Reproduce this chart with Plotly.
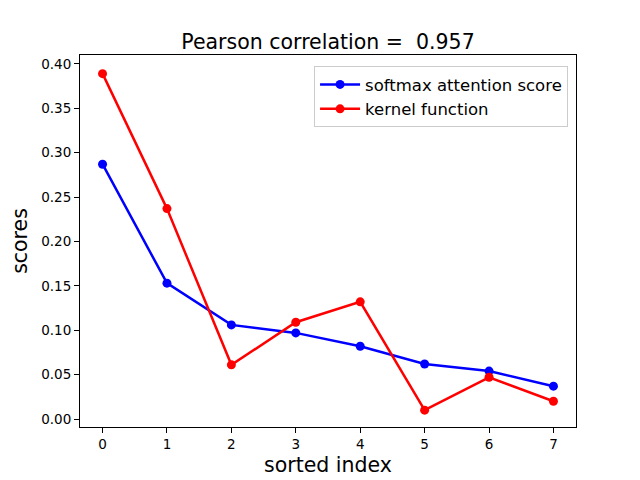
import plotly.graph_objects as go

idx = [0, 1, 2, 3, 4, 5, 6, 7]
softmax_scores = [0.287, 0.153, 0.106, 0.097, 0.082, 0.062, 0.054, 0.037]
kernel_scores = [0.389, 0.237, 0.061, 0.109, 0.132, 0.010, 0.047, 0.020]
y_ticks = [0.00, 0.05, 0.10, 0.15, 0.20, 0.25, 0.30, 0.35, 0.40]

font = "DejaVu Sans"

fig = go.Figure()
fig.add_trace(go.Scatter(x=idx, y=softmax_scores, mode="lines+markers",
                         name="softmax attention score",
                         line=dict(color="blue", width=2.5),
                         marker=dict(color="blue", size=9)))
fig.add_trace(go.Scatter(x=idx, y=kernel_scores, mode="lines+markers",
                         name="kernel function",
                         line=dict(color="red", width=2.5),
                         marker=dict(color="red", size=9)))

axis_common = dict(showgrid=False, zeroline=False, showline=True, mirror=True,
                   linecolor="black", linewidth=1, ticks="outside", ticklen=5,
                   tickcolor="black", automargin=False,
                   tickfont=dict(family=font, size=13.5, color="black"))

fig.update_xaxes(range=[-0.35, 7.35], tickvals=idx,
                 title=dict(text="sorted index", font=dict(family=font, size=20.5, color="black"),
                            standoff=6),
                 **axis_common)
fig.update_yaxes(range=[-0.009, 0.410], tickvals=y_ticks,
                 ticktext=["%.2f" % v for v in y_ticks],
                 title=dict(text="scores", font=dict(family=font, size=20.5, color="black"),
                            standoff=8),
                 **axis_common)

# page body has an 8px margin, so the figure is a bit smaller than the window
fig.update_layout(
    width=632, height=472,
    margin=dict(l=72, r=64, t=47, b=53),
    paper_bgcolor="white", plot_bgcolor="white",
    title=dict(text="Pearson correlation =  0.957", x=0.5, xanchor="center",
               xref="paper", y=0.928, yanchor="middle",
               font=dict(family=font, size=20.5, color="black")),
    legend=dict(x=0.984, y=0.97, xanchor="right", yanchor="top",
                bgcolor="rgba(255,255,255,0.8)", bordercolor="#cccccc", borderwidth=1,
                itemwidth=40, tracegroupgap=0,
                font=dict(family=font, size=16.5, color="black")),
    showlegend=True,
)

fig.write_html("out.html")
